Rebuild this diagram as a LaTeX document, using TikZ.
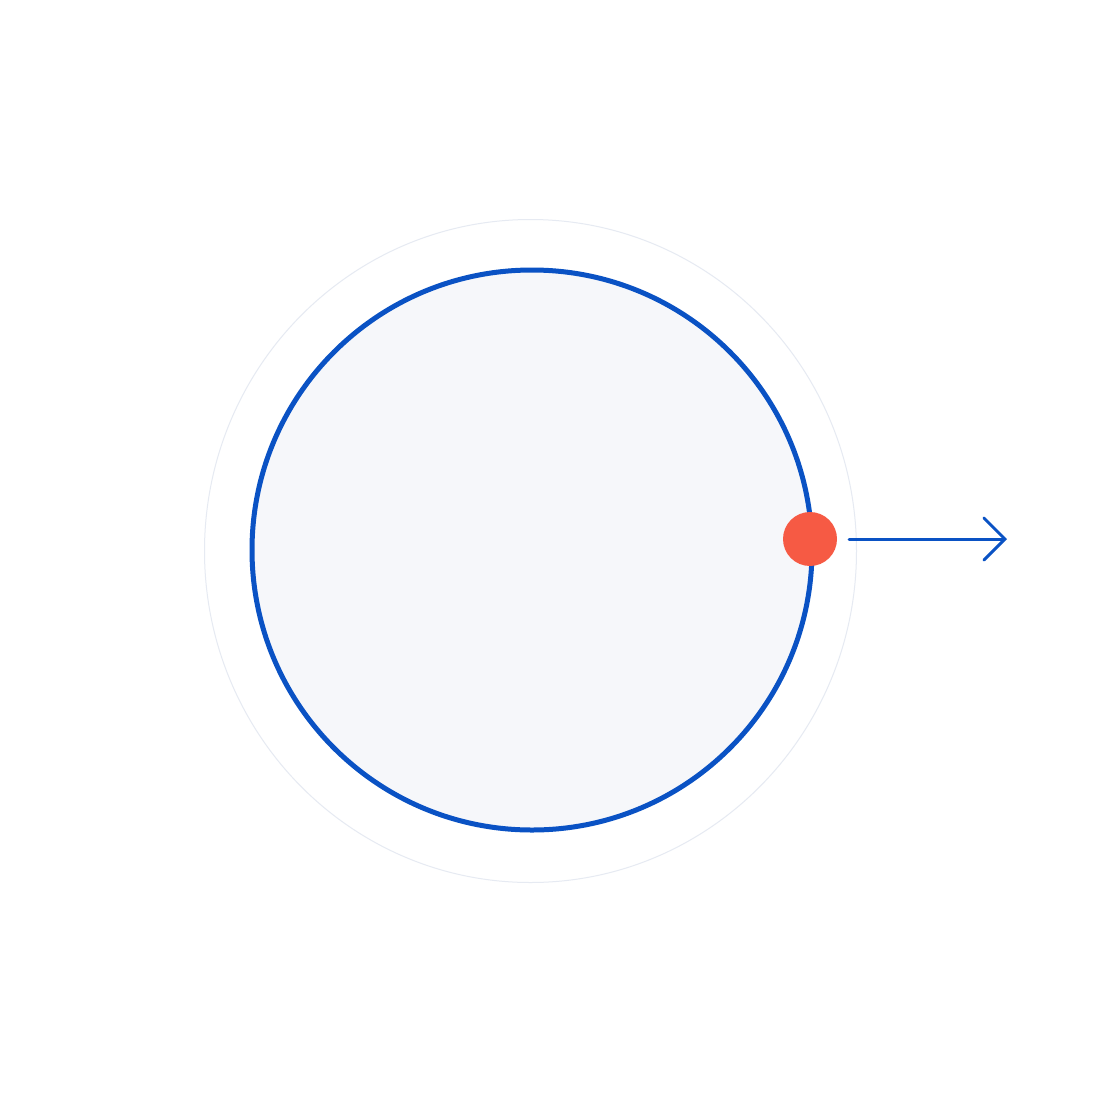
\documentclass[tikz,border=0pt]{standalone}
\usetikzlibrary{arrows.meta,shapes.geometric}
\definecolor{ringblue}{HTML}{0A52C4}
\definecolor{discfill}{HTML}{F6F7FA}
\definecolor{halo}{HTML}{E6EAF2}
\definecolor{dotred}{HTML}{F65A44}
\tikzset{
  disc/.style={circle, draw=ringblue, line width=5pt, fill=discfill, minimum size=560pt, inner sep=0pt},
  halocircle/.style={ellipse, draw=halo, line width=1pt, minimum width=652pt, minimum height=663pt, inner sep=0pt},
  reddot/.style={circle, fill=dotred, minimum size=54pt, inner sep=0pt},
  outarrow/.style={draw=ringblue, line width=3pt, line cap=round, -{Straight Barb[length=21pt, width=42pt, line cap=round]}}
}
\begin{document}
\begin{tikzpicture}[x=1pt, y=-1pt]
\useasboundingbox[fill=white] (0,0) rectangle (1104,1104);
\node[halocircle] (halo) at (530.5,551) {};
\node[disc] (ring) at (532,550) {};
\node[reddot] (dot) at (810,539) {};
\coordinate (tip) at (1007,539);
\draw[outarrow] ([xshift=12pt]dot.east) -- (tip);
\end{tikzpicture}
\end{document}
